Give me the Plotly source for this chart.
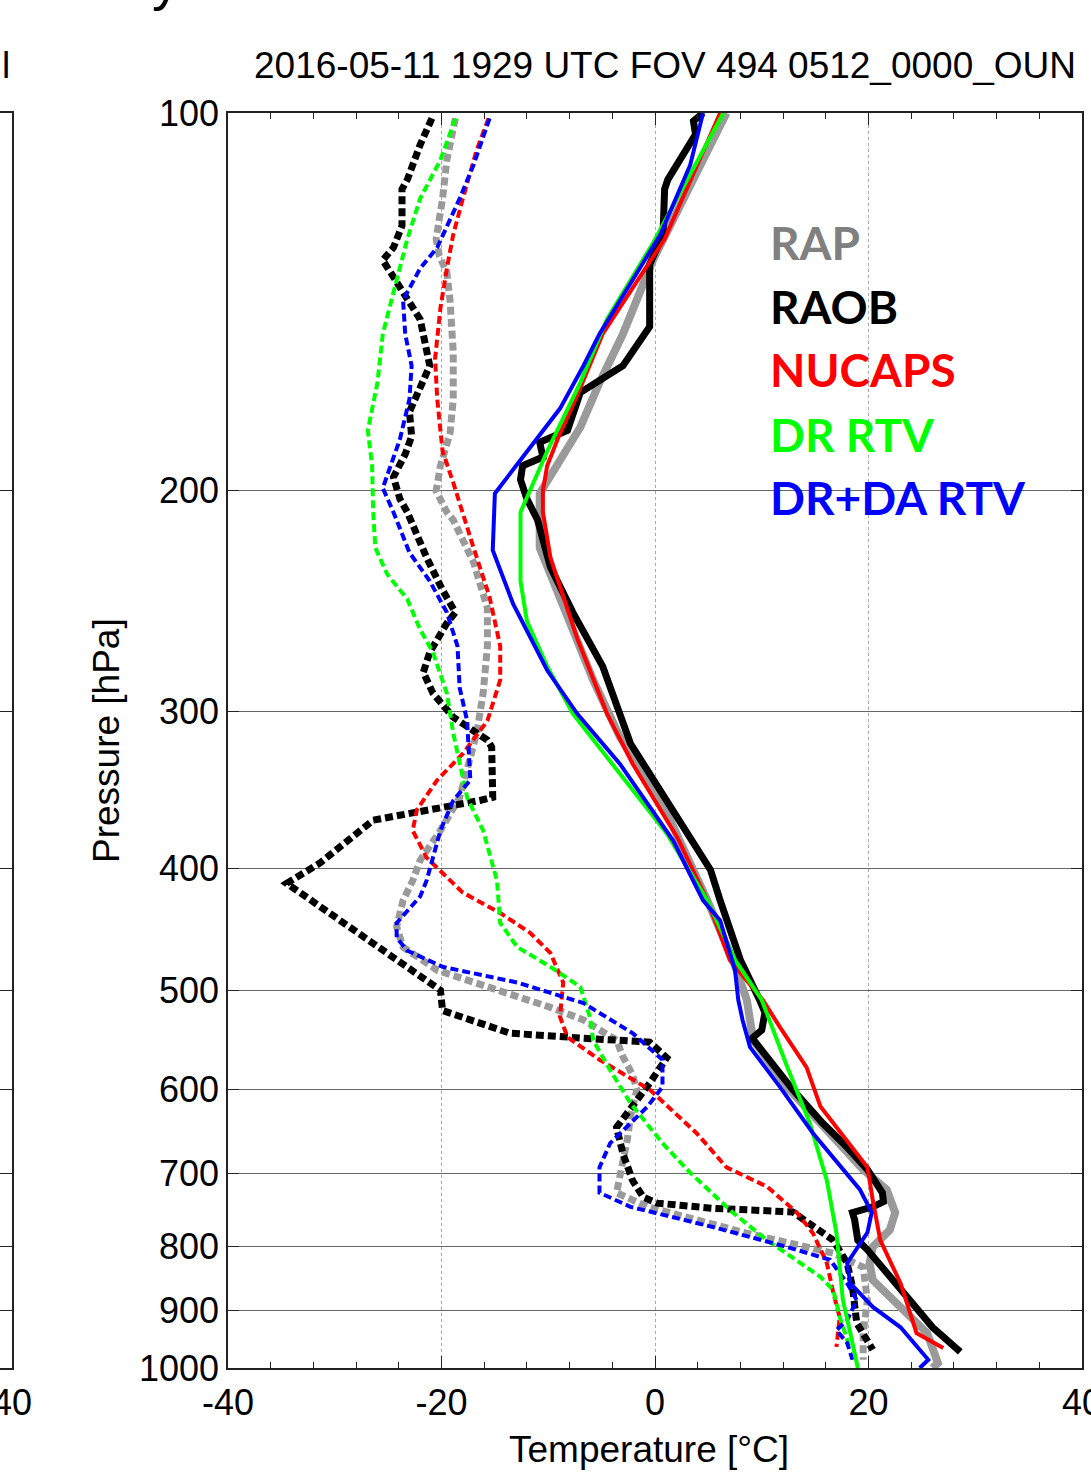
import plotly.graph_objects as go

# ---------------- data (pressure [hPa], temperature [degC]) ----------------
RAP_T_P = [100, 125, 131, 150, 164, 178, 197, 201, 222, 248, 283, 314, 361, 424, 473, 509, 535, 548, 600, 640, 670, 695, 721, 752, 776, 801, 825, 851, 894, 938, 991, 1000]
RAP_T = [6.7, 1.1, -0.2, -3.0, -5.2, -7.0, -10.1, -10.8, -10.8, -8.6, -5.8, -3.3, 1.1, 4.9, 7.3, 8.6, 8.9, 9.2, 12.6, 15.5, 17.8, 19.5, 21.7, 22.5, 22.0, 20.4, 20.1, 20.4, 23.0, 25.5, 26.5, 26.0]

RAOB_T_P = [100, 101.5, 104, 113, 115, 125, 132, 148, 159, 167, 179, 183, 188, 191, 196, 203, 211, 230, 250, 276, 318, 366, 401, 424, 473, 509, 521, 538, 546, 600, 638, 667, 695, 725, 737, 744, 752, 762, 791, 805, 840, 883, 928, 971]
RAOB_T = [4.5, 3.6, 3.8, 1.2, 0.9, 0.75, -0.5, -0.5, -3.0, -7.0, -8.2, -10.8, -10.5, -12.4, -12.6, -12.0, -11.0, -9.8, -7.7, -4.9, -2.3, 2.3, 5.2, 6.1, 8.0, 9.8, 10.3, 10.0, 9.1, 12.9, 15.7, 18.0, 19.9, 21.3, 21.4, 20.4, 18.5, 18.7, 19.0, 19.9, 21.7, 23.9, 26.0, 28.6]

NUCAPS_T_P = [100, 126, 150, 168, 180, 191, 200, 208, 226, 262, 301, 330, 378, 424, 473, 509, 535, 576, 619, 667, 692, 735, 791, 856, 904, 938, 964]
NUCAPS_T = [6.1, 0.9, -4.9, -7.3, -8.9, -10.1, -10.5, -10.5, -9.8, -7.3, -4.5, -2.1, 2.1, 4.9, 7.0, 10.1, 11.7, 14.2, 15.5, 18.5, 19.9, 20.4, 21.1, 23.0, 23.9, 24.5, 27.0]

DRRTV_T_P = [100, 127, 146, 164, 186, 208, 215, 236, 254, 276, 301, 336, 375, 424, 473, 509, 576, 638, 709, 781, 883, 938, 991, 1000]
DRRTV_T = [6.4, -0.2, -4.5, -7.0, -10.1, -12.6, -12.6, -12.6, -12.0, -10.1, -7.7, -3.3, 1.1, 4.9, 7.5, 10.0, 12.4, 14.5, 16.1, 17.0, 17.6, 18.3, 18.9, 19.0]

DRDA_T_P = [100, 110, 125, 150, 159, 172, 189, 201, 223, 246, 278, 301, 330, 380, 424, 440, 482, 509, 528, 555, 597, 650, 721, 752, 780, 825, 856, 894, 928, 985, 1000]
DRDA_T = [4.5, 3.3, 0.5, -5.2, -6.7, -8.9, -12.6, -15.0, -15.2, -13.3, -10.1, -7.3, -3.3, 1.7, 4.5, 6.1, 7.5, 7.8, 8.2, 8.9, 11.7, 14.8, 19.2, 20.3, 19.9, 18.0, 18.3, 20.4, 23.0, 25.6, 24.8]

RAP_TD_P = [101, 109, 117, 126, 130, 134, 141, 155, 169, 180, 191, 200, 208, 211, 228, 248, 266, 290, 312, 332, 351, 373, 394, 409, 424, 445, 462, 482, 497, 516, 528, 548, 565, 584, 600, 631, 658, 699, 725, 744, 781, 810, 831, 883, 938, 985]
RAP_TD = [-18.7, -19.5, -19.9, -20.5, -20.2, -19.5, -19.2, -18.9, -18.9, -19.2, -20.1, -20.5, -19.5, -18.9, -17.0, -15.7, -15.7, -16.1, -16.7, -17.6, -18.3, -20.1, -22.0, -22.7, -23.6, -24.2, -23.6, -20.4, -15.5, -9.8, -6.7, -3.6, -3.0, -2.1, -1.7, -2.3, -2.6, -3.3, -3.6, -0.7, 8.6, 16.7, 19.5, 19.9, 19.5, 19.5]

RAOB_TD_P = [101, 106, 113, 115, 123, 128, 131, 138, 146, 159, 173, 181, 187, 195, 203, 208, 226, 240, 250, 255, 269, 279, 290, 303, 316, 320, 351, 353, 366, 373, 396, 411, 500, 519, 541, 546, 550, 566, 593, 643, 675, 709, 731, 739, 746, 751, 772, 791, 825, 862, 921, 967]
RAOB_TD = [-20.9, -22.0, -23.2, -23.7, -23.7, -24.5, -25.5, -23.9, -22.0, -21.1, -23.0, -22.8, -23.4, -24.5, -23.9, -23.2, -21.4, -19.9, -18.7, -19.5, -21.1, -21.7, -20.8, -18.9, -15.7, -15.3, -15.2, -16.4, -26.4, -27.6, -31.4, -34.5, -20.1, -19.9, -13.6, -6.7, -0.5, 1.1, -0.5, -3.6, -3.0, -2.1, -1.1, 0.2, 5.4, 12.9, 14.8, 16.7, 18.0, 18.5, 18.9, 20.4]

NUCAPS_TD_P = [101, 107, 117, 125, 133, 143, 157, 169, 186, 197, 222, 243, 266, 283, 305, 324, 340, 359, 373, 392, 411, 418, 434, 450, 467, 493, 525, 545, 568, 600, 650, 692, 717, 752, 781, 825, 871, 911, 962]
NUCAPS_TD = [-15.6, -16.7, -18.0, -18.9, -19.5, -20.1, -20.6, -20.4, -19.9, -18.9, -17.0, -15.5, -14.5, -14.5, -15.7, -18.0, -20.4, -22.3, -22.7, -21.4, -18.9, -18.0, -14.5, -11.7, -9.8, -8.6, -8.9, -8.2, -5.2, -0.5, 3.9, 6.7, 10.5, 13.3, 14.8, 16.1, 16.7, 17.3, 17.0]

DRRTV_TD_P = [101, 109, 117, 126, 139, 150, 164, 179, 191, 208, 222, 233, 244, 258, 269, 290, 312, 330, 351, 373, 409, 442, 462, 479, 497, 525, 548, 579, 615, 662, 699, 752, 791, 846, 867, 910, 967]
DRRTV_TD = [-18.7, -20.1, -22.0, -23.2, -24.5, -25.5, -26.0, -26.9, -26.5, -26.4, -26.2, -25.1, -23.2, -22.0, -20.8, -19.5, -18.9, -18.3, -17.6, -16.1, -14.8, -14.5, -12.9, -9.8, -7.0, -6.1, -5.8, -4.2, -2.3, 0.7, 3.3, 7.3, 10.5, 15.5, 16.7, 17.3, 18.3]

DRDA_TD_P = [101, 110, 117, 128, 133, 141, 150, 159, 169, 182, 199, 208, 224, 236, 250, 266, 287, 305, 340, 353, 373, 409, 421, 442, 454, 465, 479, 493, 512, 541, 568, 597, 619, 662, 692, 725, 744, 772, 801, 820, 856, 883, 916, 933, 955, 985]
DRDA_TD = [-15.5, -17.0, -18.3, -20.4, -22.0, -23.6, -23.4, -22.8, -23.0, -23.9, -25.5, -24.5, -23.0, -21.1, -19.5, -18.5, -18.3, -17.6, -17.3, -18.9, -20.1, -21.4, -22.0, -24.2, -24.2, -23.2, -19.9, -12.9, -6.7, -2.1, 0.7, 0.7, -0.7, -4.2, -5.2, -5.2, -2.3, 5.4, 12.4, 16.4, 18.0, 18.9, 18.0, 17.0, 18.0, 18.5]

X_TICKS = [-40, -20, 0, 20, 40]
P_TICKS = [100, 200, 300, 400, 500, 600, 700, 800, 900, 1000]

LEGEND_NAMES = ["RAP", "RAOB", "NUCAPS", "DR RTV", "DR+DA RTV"]
LEGEND_COLORS = ["#808080", "#000000", "#ff0000", "#00ff00", "#0000ff"]

TITLE = "2016-05-11 1929 UTC FOV 494 0512_0000_OUN"

# ---------------- figure ----------------
W, H = 1091, 1474
ML, MR, MT, MB = 0, 9, 113, 106
PW = W - ML - MR          # plot area width (px)
PH = H - MT - MB          # plot area height (px)
X0 = 228                  # left edge of main panel (px)

def px(x):
    return x / PW

def py(y):
    return (H - MB - y) / PH

FONT = "Liberation Sans, Arial, sans-serif"
fig = go.Figure()

def add(x, p, color, width, dash=None):
    fig.add_trace(go.Scatter(
        x=x, y=p, mode="lines", showlegend=False, hoverinfo="skip",
        line=dict(color=color, width=width, dash=dash if dash else "solid"),
    ))

# dewpoints (dashed)
add(RAP_TD, RAP_TD_P, "#9a9a9a", 7, "8px,4px")
add(RAOB_TD, RAOB_TD_P, "#000000", 7, "8px,4px")
add(NUCAPS_TD, NUCAPS_TD_P, "#ff0000", 4, "8px,4px")
add(DRRTV_TD, DRRTV_TD_P, "#00ff00", 4, "8px,4px")
add(DRDA_TD, DRDA_TD_P, "#0000ff", 4, "8px,4px")
# temperatures (solid)
add(RAP_T, RAP_T_P, "#9a9a9a", 8)
add(RAOB_T, RAOB_T_P, "#000000", 7)
add(NUCAPS_T, NUCAPS_T_P, "#ff0000", 4)
add(DRRTV_T, DRRTV_T_P, "#00ff00", 4)
add(DRDA_T, DRDA_T_P, "#0000ff", 4)

# empty trace for the cut-off left panel
fig.add_trace(go.Scatter(x=[None], y=[None], xaxis="x2", yaxis="y2",
                         showlegend=False, hoverinfo="skip"))

axis_font = dict(family=FONT, size=36, color="black")

fig.update_layout(
    template="none",
    width=W, height=H,
    margin=dict(l=ML, r=MR, t=MT, b=MB, pad=0, autoexpand=False),
    paper_bgcolor="white", plot_bgcolor="white",
    showlegend=False,
    xaxis=dict(
        domain=[px(X0), 1], range=[-40, 40], tickvals=X_TICKS,
        ticktext=[str(v) for v in X_TICKS], automargin=False,
        ticklabeloverflow="allow",
        showline=True, linecolor="#222", linewidth=1.5, mirror="ticks",
        ticks="inside", ticklen=12, tickcolor="#222", tickwidth=1.2,
        minor=dict(dtick=4, tick0=0, ticks="inside", ticklen=6,
                   tickcolor="#222", tickwidth=1.2, showgrid=False),
        showgrid=True, gridcolor="#a8a8a8", griddash="dot", gridwidth=1,
        zeroline=False, tickfont=axis_font, ticklabelstandoff=2,
    ),
    yaxis=dict(
        type="log", range=[3, 2], tickvals=P_TICKS, automargin=False,
        ticktext=[str(v) for v in P_TICKS],
        showline=True, linecolor="#222", linewidth=1.5, mirror="ticks",
        ticks="inside", ticklen=11, tickcolor="#222", tickwidth=1.2,
        showgrid=True, gridcolor="#666666", gridwidth=1.2,
        zeroline=False, tickfont=axis_font, ticklabelstandoff=0,
    ),
    xaxis2=dict(
        domain=[0, px(12)], range=[30, 40], anchor="y2", automargin=False,
        tickvals=[40], ticktext=["40"], ticks="", ticklabeloverflow="allow",
        showline=True, linecolor="#222", linewidth=1.5, mirror=True,
        showgrid=False, zeroline=False, tickfont=axis_font,
        ticklabelstandoff=2,
    ),
    yaxis2=dict(
        type="log", range=[3, 2], anchor="x2", side="right", automargin=False,
        tickvals=P_TICKS, showticklabels=False,
        showline=True, linecolor="#222", linewidth=1.5,
        ticks="inside", ticklen=12, tickcolor="#222", tickwidth=1.2,
        showgrid=False, zeroline=False,
    ),
)

ann = []
# title
ann.append(dict(text=TITLE, x=px(665), y=py(65), xref="paper", yref="paper",
                xanchor="center", yanchor="middle", showarrow=False,
                font=dict(family=FONT, size=37, color="black")))
# axis titles
ann.append(dict(text="Temperature [°C]", x=px(649), y=py(1449), xref="paper", yref="paper",
                xanchor="center", yanchor="middle", showarrow=False,
                font=dict(family=FONT, size=37, color="black")))
ann.append(dict(text="Pressure [hPa]", x=px(106), y=py(741), xref="paper", yref="paper",
                xanchor="center", yanchor="middle", showarrow=False, textangle=-90,
                font=dict(family=FONT, size=37, color="black")))
# fragments of neighbouring panel / figure title
ann.append(dict(text="l", x=px(0), y=py(65), xref="paper", yref="paper",
                xanchor="left", yanchor="middle", showarrow=False,
                font=dict(family=FONT, size=37, color="black")))
ann.append(dict(text="y", x=px(166), y=py(-21), xref="paper", yref="paper",
                xanchor="center", yanchor="middle", showarrow=False,
                font=dict(family=FONT, size=56, color="black")))
# legend text
LEG_Y = [242, 306, 370, 434, 498]
for name, col, yy in zip(LEGEND_NAMES, LEGEND_COLORS, LEG_Y):
    ann.append(dict(text="<b>%s</b>" % name, x=px(768), y=py(yy),
                    xref="paper", yref="paper", xanchor="left", yanchor="middle",
                    showarrow=False,
                    font=dict(family="Lato, Carlito, Calibri, sans-serif", size=46, color=col)))
fig.update_layout(annotations=ann)

fig.write_html("out.html", config={"displayModeBar": False},
               post_script="document.body.style.margin='0px';document.body.style.padding='0px';")
